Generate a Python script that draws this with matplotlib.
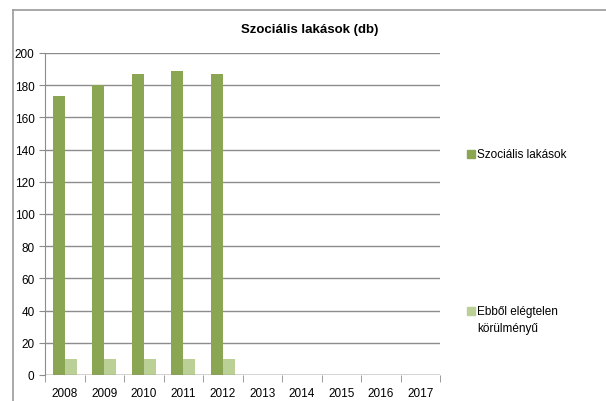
import numpy as np
import matplotlib
matplotlib.use("Agg")
import matplotlib.pyplot as plt
from matplotlib.lines import Line2D
from matplotlib.patches import Rectangle

years = ["2008", "2009", "2010", "2011", "2012", "2013", "2014", "2015", "2016", "2017"]
szocialis = [173, 180, 187, 189, 187, 0, 0, 0, 0, 0]
elegtelen = [10, 10, 10, 10, 10, 0, 0, 0, 0, 0]

DARK, LIGHT, GRID = "#8aa652", "#bad097", "#8c8c8c"
plt.rcParams["font.family"] = ["Liberation Sans", "DejaVu Sans"]

fig = plt.figure(figsize=(6.06, 4.02), dpi=100)
ax = fig.add_axes([45 / 606, 1 - 376 / 402, 395 / 606, 322 / 402])

x = np.arange(len(years))
w = 0.3
sz = [v if v else np.nan for v in szocialis]
el = [v if v else np.nan for v in elegtelen]
ax.bar(x - w / 2, sz, w, color=DARK, zorder=3)
ax.bar(x + w / 2, el, w, color=LIGHT, zorder=3)

ax.set_xlim(-0.5, len(years) - 0.5)
ax.set_ylim(0, 200)
ax.set_yticks(range(0, 201, 20))
ax.yaxis.grid(True, color=GRID, lw=1)
ax.set_axisbelow(True)
for s in ["top", "right", "bottom"]:
    ax.spines[s].set_visible(False)
ax.spines["left"].set_color(GRID)
ax.axhline(0, color=GRID, lw=1, zorder=4)
ax.set_xticks(x)
ax.set_xticklabels(years)
ax.tick_params(axis="x", length=0, labelsize=8.5, pad=9)
ax.set_xticks(np.arange(-0.5, len(years)), minor=True)
ax.tick_params(axis="x", which="minor", length=5, color=GRID)
ax.tick_params(axis="y", length=4, color=GRID, labelsize=8.5)

fig.text(310 / 606, 1 - 30 / 402, "Szociális lakások (db)", ha="center", va="center",
         fontsize=9.5, fontweight="bold")

# legend entries, drawn by hand so the swatch sits on the first text line
labels = [("Szociális lakások", DARK, 155), ("Ebből elégtelen\nkörülményű", LIGHT, 312)]
for text, col, ypix in labels:
    fig.patches.append(Rectangle((467 / 606, 1 - (ypix + 4) / 402), 8 / 606, 8 / 402,
                                 color=col, transform=fig.transFigure))
    fig.text(477 / 606, 1 - (ypix - 6) / 402, text, ha="left", va="top", fontsize=8.5,
             linespacing=1.6)

fig.add_artist(Line2D([13 / 606, 1], [1 - 11 / 402] * 2, color="#999999", lw=1.2))
fig.add_artist(Line2D([13 / 606] * 2, [0, 1 - 11 / 402], color="#999999", lw=1.2))

fig.savefig("out.png", dpi=100)
